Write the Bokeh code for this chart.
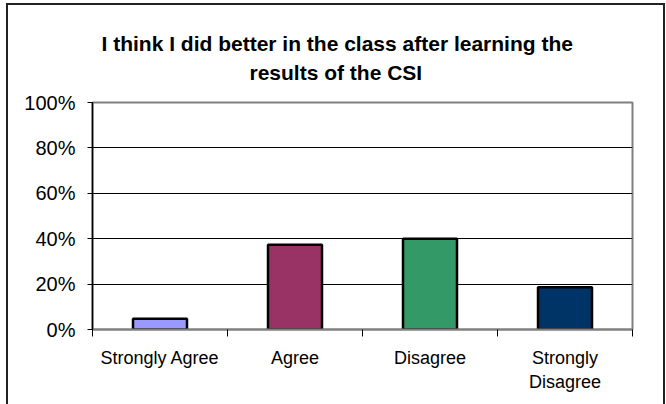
from bokeh.plotting import figure
from bokeh.models import (Range1d, FixedTicker, NumeralTickFormatter, Title,
                          ColumnDataSource, InlineStyleSheet)
from bokeh.embed import file_html
from bokeh.resources import INLINE
import numpy as np

# ---- data ----
categories = ["Strongly Agree", "Agree", "Disagree", "Strongly Disagree"]
category_labels = ["Strongly Agree", "Agree", "Disagree", "Strongly\nDisagree"]
values = [0.047, 0.373, 0.40, 0.186]
colors = ["#9999FF", "#993366", "#339966", "#003366"]
y_ticks = [0.0, 0.2, 0.4, 0.6, 0.8, 1.0]
title_line1 = "I think I did better in the class after learning the"
title_line2 = "results of the CSI"

FONT = "Liberation Sans"

n = len(categories)
centers = list(np.arange(n) + 0.5)
boundaries = list(range(n + 1))

src = ColumnDataSource(dict(x=centers, top=values, color=colors, cat=categories))

p = figure(width=666, height=404, output_backend="svg", toolbar_location=None,
           x_range=Range1d(0, n), y_range=Range1d(0, 1), title=None,
           min_border_left=92, min_border_right=34, min_border_top=102,
           min_border_bottom=75)
p.background_fill_color = "white"
p.border_fill_color = "white"
p.outline_line_color = "#808080"
p.outline_line_width = 2

p.vbar(x="x", top="top", width=0.4, bottom=0, source=src, fill_color="color",
       line_color="black", line_width=2.5)

# y axis
p.yaxis.ticker = FixedTicker(ticks=y_ticks)
p.yaxis.formatter = NumeralTickFormatter(format="0%")
p.yaxis.axis_line_color = "black"
p.yaxis.axis_line_width = 1.5
p.yaxis.major_tick_line_color = "black"
p.yaxis.major_tick_out = 5
p.yaxis.major_tick_in = 0
p.yaxis.minor_tick_line_color = None
p.yaxis.major_label_text_font = FONT
p.yaxis.major_label_text_font_size = "20px"
p.yaxis.major_label_text_color = "black"
p.yaxis.major_label_standoff = 12

# x axis
p.xaxis.ticker = FixedTicker(ticks=centers, minor_ticks=boundaries)
p.xaxis.major_label_overrides = {c: lab for c, lab in zip(centers, category_labels)}
p.xaxis.axis_line_color = "#808080"
p.xaxis.axis_line_width = 2
p.xaxis.major_tick_line_color = None
p.xaxis.major_tick_out = 0
p.xaxis.major_tick_in = 0
p.xaxis.minor_tick_line_color = "black"
p.xaxis.minor_tick_out = 7
p.xaxis.minor_tick_in = 0
p.xaxis.major_label_text_font = FONT
p.xaxis.major_label_text_font_size = "18px"
p.xaxis.major_label_text_color = "black"
p.xaxis.major_label_standoff = 11

# grid
p.xgrid.grid_line_color = None
p.ygrid.ticker = FixedTicker(ticks=y_ticks)
p.ygrid.grid_line_color = "black"
p.ygrid.grid_line_width = 1

# title (two lines, added closest-to-frame first; a blank spacer below them)
p.add_layout(Title(text=" ", text_font=FONT, text_font_size="12px",
                   standoff=1), "above")
p.add_layout(Title(text=title_line2, align="left", offset=157, text_font=FONT,
                   text_font_style="bold", text_font_size="21px",
                   text_color="black", standoff=4), "above")
p.add_layout(Title(text=title_line1, align="left", offset=9, text_font=FONT,
                   text_font_style="bold", text_font_size="21px",
                   text_color="black", standoff=4), "above")

# chart border (top, left, right only; bottom runs past the window)
p.stylesheets = [InlineStyleSheet(css="""
:host { position: relative; }
:host::after {
  content: ""; position: absolute; left: 6px; top: 3px; right: 1px; bottom: 0;
  border: 2px solid #222222; border-bottom: none; pointer-events: none;
}
""")]

open("out.html", "w").write(file_html(p, INLINE))
